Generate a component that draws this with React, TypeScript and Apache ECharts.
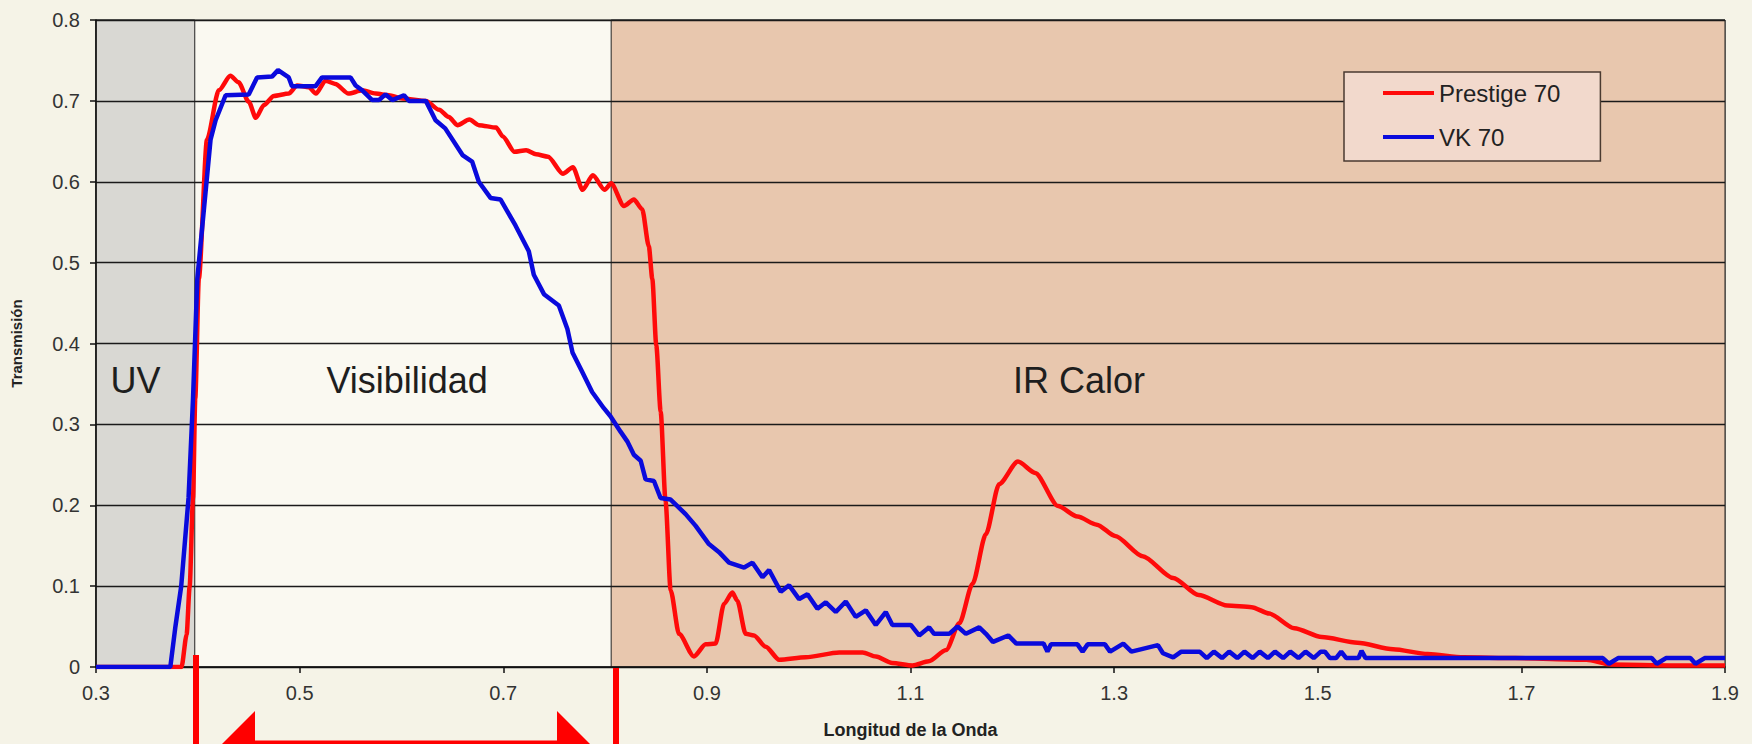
import React, { useEffect, useRef } from "react";
import * as echarts from "echarts";

// ---- data ----
const xTicks = [0.3, 0.5, 0.7, 0.9, 1.1, 1.3, 1.5, 1.7, 1.9];
const yTicks = [0, 0.1, 0.2, 0.3, 0.4, 0.5, 0.6, 0.7, 0.8];
const seriesNames = ["Prestige 70", "VK 70"];
const regionNames = ["UV", "Visibilidad", "IR Calor"];
const regionBounds = [0.3, 0.397, 0.806, 1.9];

const prestige70: [number, number][] = [
  [0.3, 0], [0.384, 0], [0.389, 0.04], [0.392, 0.1], [0.3953, 0.209], [0.3975, 0.332],
  [0.401, 0.48], [0.409, 0.652], [0.4206, 0.713], [0.432, 0.731], [0.44, 0.723], [0.45, 0.699],
  [0.457, 0.679], [0.465, 0.695], [0.4747, 0.706], [0.4893, 0.709], [0.4975, 0.719], [0.509, 0.717],
  [0.516, 0.709], [0.5254, 0.725], [0.535, 0.721], [0.548, 0.709], [0.5615, 0.713], [0.5746, 0.709],
  [0.5877, 0.707], [0.601, 0.703], [0.624, 0.7], [0.637, 0.689], [0.6466, 0.68], [0.655, 0.67],
  [0.6667, 0.677], [0.676, 0.67], [0.693, 0.667], [0.6996, 0.656], [0.711, 0.637], [0.7225, 0.639],
  [0.7323, 0.634], [0.744, 0.631], [0.7586, 0.61], [0.7684, 0.618], [0.778, 0.59], [0.788, 0.608],
  [0.7996, 0.59], [0.806, 0.598], [0.8185, 0.57], [0.8283, 0.578], [0.8365, 0.566], [0.843, 0.52],
  [0.8464, 0.48], [0.8503, 0.398], [0.8546, 0.316], [0.8594, 0.205], [0.8644, 0.095], [0.8726, 0.041],
  [0.8873, 0.013], [0.8988, 0.028], [0.9086, 0.029], [0.9168, 0.078], [0.925, 0.092], [0.9299, 0.082],
  [0.9381, 0.041], [0.9463, 0.039], [0.9578, 0.025], [0.971, 0.009], [0.9971, 0.012], [1.03, 0.018],
  [1.053, 0.018], [1.066, 0.013], [1.082, 0.005], [1.102, 0.002], [1.118, 0.007], [1.135, 0.021],
  [1.148, 0.054], [1.161, 0.103], [1.174, 0.164], [1.187, 0.226], [1.2055, 0.254], [1.2225, 0.24],
  [1.245, 0.199], [1.264, 0.186], [1.283, 0.176], [1.301, 0.162], [1.328, 0.137], [1.358, 0.11],
  [1.383, 0.089], [1.411, 0.076], [1.435, 0.074], [1.4525, 0.066], [1.477, 0.048], [1.504, 0.037],
  [1.539, 0.03], [1.574, 0.022], [1.608, 0.016], [1.643, 0.012], [1.694, 0.011], [1.764, 0.009],
  [1.788, 0.003], [1.85, 0.002], [1.9, 0.002],
];

const vk70: [number, number][] = [
  [0.3, 0], [0.373, 0], [0.378, 0.05], [0.3837, 0.1], [0.3909, 0.209], [0.3953, 0.332],
  [0.3995, 0.48], [0.4125, 0.652], [0.4175, 0.676], [0.4273, 0.707], [0.45, 0.708], [0.4582, 0.729],
  [0.4729, 0.73], [0.4788, 0.738], [0.4893, 0.729], [0.4925, 0.718], [0.5155, 0.718], [0.522, 0.729],
  [0.55, 0.729], [0.555, 0.719], [0.5615, 0.713], [0.5713, 0.701], [0.578, 0.701], [0.5844, 0.708],
  [0.591, 0.701], [0.6025, 0.707], [0.6073, 0.7], [0.624, 0.7], [0.6335, 0.676], [0.643, 0.666],
  [0.66, 0.633], [0.6694, 0.625], [0.676, 0.6], [0.6875, 0.58], [0.6974, 0.578], [0.712, 0.546],
  [0.7251, 0.514], [0.73, 0.485], [0.74, 0.461], [0.7546, 0.447], [0.763, 0.418], [0.768, 0.389],
  [0.7775, 0.365], [0.7873, 0.34], [0.7988, 0.32], [0.8053, 0.31], [0.8152, 0.291], [0.8218, 0.279],
  [0.8283, 0.2625], [0.835, 0.255], [0.8398, 0.232], [0.848, 0.23], [0.8545, 0.209], [0.8644, 0.207],
  [0.8791, 0.189], [0.889, 0.1745], [0.902, 0.152], [0.912, 0.142], [0.9218, 0.129], [0.9366, 0.123],
  [0.9448, 0.129], [0.9546, 0.111], [0.9611, 0.12], [0.9726, 0.093], [0.9808, 0.101], [0.9906, 0.084],
  [0.9988, 0.09], [1.0086, 0.072], [1.0168, 0.08], [1.0266, 0.068], [1.0364, 0.081], [1.0462, 0.062],
  [1.0561, 0.07], [1.0659, 0.052], [1.0757, 0.068], [1.0822, 0.052], [1.1003, 0.052], [1.1085, 0.039],
  [1.1183, 0.049], [1.1232, 0.041], [1.138, 0.041], [1.1462, 0.05], [1.1544, 0.041], [1.1675, 0.049],
  [1.1741, 0.041], [1.181, 0.031], [1.196, 0.039], [1.204, 0.029], [1.2307, 0.029], [1.2345, 0.019],
  [1.238, 0.028], [1.264, 0.028], [1.269, 0.019], [1.274, 0.028], [1.291, 0.028], [1.296, 0.019],
  [1.309, 0.029], [1.317, 0.019], [1.343, 0.027], [1.348, 0.017], [1.358, 0.012], [1.366, 0.019],
  [1.384, 0.019], [1.391, 0.011], [1.398, 0.019], [1.406, 0.011], [1.413, 0.019], [1.421, 0.011],
  [1.428, 0.019], [1.436, 0.011], [1.443, 0.019], [1.451, 0.011], [1.458, 0.019], [1.466, 0.011],
  [1.473, 0.019], [1.481, 0.011], [1.488, 0.019], [1.496, 0.011], [1.503, 0.019], [1.507, 0.019],
  [1.512, 0.011], [1.518, 0.011], [1.523, 0.019], [1.528, 0.011], [1.54, 0.011], [1.543, 0.02],
  [1.547, 0.011], [1.78, 0.011], [1.786, 0.004], [1.795, 0.011], [1.828, 0.011], [1.833, 0.004],
  [1.842, 0.011], [1.866, 0.011], [1.871, 0.004], [1.88, 0.011], [1.9, 0.011],
];

const FONT = "'Liberation Sans', Arial, sans-serif";

export default function App() {
  const ref = useRef<HTMLDivElement>(null);

  useEffect(() => {
    if (!ref.current) return;
    const chart = echarts.init(ref.current, undefined, { renderer: "svg" });
    const regionLabel = (name: string, px: string) => ({
      show: true,
      formatter: name,
      position: [px, "55.7%"],
      align: "center",
      verticalAlign: "middle",
      fontFamily: FONT,
      fontSize: 36,
      color: "#1e1e1e",
    });
    chart.setOption({
      animation: false,
      backgroundColor: "#f5f3e7",
      textStyle: { fontFamily: FONT },
      grid: {
        left: 96,
        right: 27,
        top: 20,
        bottom: 74,
        show: true,
        backgroundColor: "#faf9f1",
        borderColor: "#222",
        borderWidth: 1,
      },
      legend: {
        data: seriesNames,
        orient: "vertical",
        left: 1344,
        top: 72,
        padding: [9, 40, 12, 39],
        itemGap: 20,
        itemWidth: 51,
        itemHeight: 4,
        icon: "rect",
        backgroundColor: "#f2d9cc",
        borderColor: "#4a3a30",
        borderWidth: 1.5,
        textStyle: { fontFamily: FONT, fontSize: 24, color: "#222" },
      },
      xAxis: {
        type: "value",
        min: xTicks[0],
        max: xTicks[xTicks.length - 1],
        interval: 0.2,
        z: 2,
        name: "Longitud de la Onda",
        nameLocation: "middle",
        nameGap: 54,
        nameTextStyle: { fontFamily: FONT, fontSize: 18, fontWeight: "bold", color: "#222" },
        axisLine: { lineStyle: { color: "#111", width: 1.5 } },
        axisTick: { show: true, length: 6, lineStyle: { color: "#111", width: 1.5 } },
        axisLabel: {
          margin: 16,
          fontSize: 20,
          color: "#333",
          fontFamily: FONT,
          formatter: (v: number) => v.toFixed(1),
        },
        splitLine: { show: false },
      },
      yAxis: {
        type: "value",
        min: yTicks[0],
        max: yTicks[yTicks.length - 1],
        interval: 0.1,
        z: 2,
        name: "Transmisión",
        nameLocation: "middle",
        nameGap: 72,
        nameTextStyle: { fontFamily: FONT, fontSize: 15, fontWeight: "bold", color: "#222" },
        axisLine: { show: true, lineStyle: { color: "#111", width: 1.5 } },
        axisTick: { show: true, length: 6, lineStyle: { color: "#111", width: 1.5 } },
        axisLabel: {
          margin: 16,
          fontSize: 20,
          color: "#333",
          fontFamily: FONT,
          formatter: (v: number) => (v === 0 ? "0" : v.toFixed(1)),
        },
        splitLine: { show: true, lineStyle: { color: "#1a1a1a", width: 1.3 } },
      },
      series: [
        {
          name: "regions",
          type: "line",
          data: [],
          z: 1,
          silent: true,
          markArea: {
            silent: true,
            data: [
              [
                {
                  xAxis: regionBounds[0],
                  itemStyle: { color: "#d9d8d3", borderColor: "#222", borderWidth: 1 },
                  label: regionLabel(regionNames[0], "40%"),
                },
                { xAxis: regionBounds[1] },
              ],
              [
                {
                  xAxis: regionBounds[1],
                  itemStyle: { color: "rgba(0,0,0,0)", borderWidth: 0 },
                  label: regionLabel(regionNames[1], "51%"),
                },
                { xAxis: regionBounds[2] },
              ],
              [
                {
                  xAxis: regionBounds[2],
                  itemStyle: { color: "#e8c7ae", borderColor: "#222", borderWidth: 1 },
                  label: regionLabel(regionNames[2], "42%"),
                },
                { xAxis: regionBounds[3] },
              ],
            ],
          },
        },
        {
          name: seriesNames[0],
          type: "line",
          data: prestige70,
          z: 4,
          showSymbol: false,
          smooth: 0.25,
          smoothMonotone: "x",
          lineStyle: { color: "#ff0a0a", width: 4.5 },
          itemStyle: { color: "#ff0a0a" },
        },
        {
          name: seriesNames[1],
          type: "line",
          data: vk70,
          z: 5,
          showSymbol: false,
          lineStyle: { color: "#0a0adc", width: 4.5 },
          itemStyle: { color: "#0a0adc" },
        },
      ],
      graphic: [
        { type: "line", z: 10, shape: { x1: 196, y1: 655, x2: 196, y2: 750 }, style: { stroke: "#ff0000", lineWidth: 6 } },
        { type: "line", z: 10, shape: { x1: 616, y1: 668, x2: 616, y2: 750 }, style: { stroke: "#ff0000", lineWidth: 6 } },
        { type: "line", z: 10, shape: { x1: 240, y1: 745, x2: 572, y2: 745 }, style: { stroke: "#ff0000", lineWidth: 9 } },
        { type: "polygon", z: 10, shape: { points: [[222, 744], [255, 711], [255, 777]] }, style: { fill: "#ff0000" } },
        { type: "polygon", z: 10, shape: { points: [[590, 744], [557, 711], [557, 777]] }, style: { fill: "#ff0000" } },
      ],
    });
    return () => chart.dispose();
  }, []);

  return (
    <div
      ref={ref}
      style={{ position: "fixed", left: 0, top: 0, width: 1752, height: 744 }}
    />
  );
}
